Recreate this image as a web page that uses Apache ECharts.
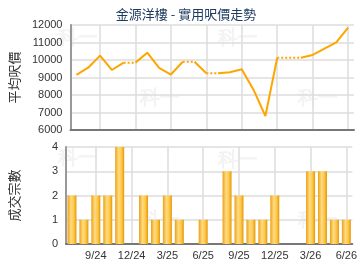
<!DOCTYPE html>
<html>
<head>
<meta charset="utf-8">
<script src="https://cdn.jsdelivr.net/npm/echarts@6/dist/echarts.min.js"></script>
<style>
  html, body { margin: 0; padding: 0; background: #fff; }
  #chart { width: 360px; height: 270px; }
</style>
</head>
<body>
<div id="chart"></div>
<script>
const months = ['7/24', '8/24', '9/24', '10/24', '11/24', '12/24',
    '1/25', '2/25', '3/25', '4/25', '5/25', '6/25', '7/25', '8/25', '9/25',
    '10/25', '11/25', '12/25', '1/26', '2/26', '3/26', '4/26', '5/26', '6/26'];
// average price per sq ft (months without deals carry the last price)
const prices = [9150, 9560, 10250, 9430, 9850, 9850,
    10420, 9550, 9170, 9900, 9900, 9240, 9240, 9300, 9470,
    8290, 6800, 10130, 10130, 10130, 10290, 10650, 11010, 11850];
const deals = [2, 1, 2, 2, 4, 0, 2, 1, 2, 1, 0, 1, 0, 3, 2, 1, 1, 2, 0, 0, 3, 3, 1, 1];

const chartTitle = '金源洋樓 - 實用呎價走勢';
const font = 'Liberation Sans, Arial, sans-serif';
const cjkFont = '"Noto Sans CJK TC", "Noto Sans", sans-serif';

// split the line into runs: a segment is dotted when it ends on a month with no deals
function buildLineSeries() {
    const out = [];
    let start = 0;
    let dotted = deals[1] === 0;
    for (let i = 1; i <= prices.length; i++) {
        const d = i < prices.length ? deals[i] === 0 : null;
        if (i === prices.length || d !== dotted) {
            const data = prices.map((v, k) => (k >= start && k <= i - 1) ? v : null);
            out.push({
                type: 'line',
                xAxisIndex: 0,
                yAxisIndex: 0,
                data: data,
                showSymbol: false,
                silent: true,
                lineStyle: {color: '#FFA500', width: 2, type: dotted ? 'dotted' : 'solid'},
                z: 3
            });
            start = i - 1;
            dotted = d;
        }
    }
    return out;
}

const showEvery3 = (index) => index % 3 === 2;

function xAxis(gridIndex, labels) {
    return {
        type: 'category',
        gridIndex: gridIndex,
        data: months,
        axisLine: {lineStyle: {color: '#777', width: 2}},
        axisTick: {show: false},
        axisLabel: {
            show: labels,
            interval: showEvery3,
            color: '#333',
            fontSize: 11,
            fontFamily: font,
            margin: 6
        },
        splitLine: {
            show: true,
            interval: showEvery3,
            alignWithLabel: true,
            lineStyle: {color: '#dcdcdc', width: 1.5}
        }
    };
}

function yAxis(gridIndex, name, min, max, interval) {
    return {
        type: 'value',
        gridIndex: gridIndex,
        name: name,
        nameLocation: 'middle',
        nameGap: 45,
        nameTextStyle: {color: '#333', fontSize: 13, fontFamily: cjkFont},
        min: min,
        max: max,
        interval: interval,
        axisLine: {show: true, lineStyle: {color: '#999', width: 2}},
        axisTick: {show: false},
        axisLabel: {color: '#333', fontSize: 11, fontFamily: font, margin: 8, formatter: (v) => String(v)},
        splitLine: {lineStyle: {color: '#dcdcdc', width: 1.5}}
    };
}

const watermarks = [[58, 28], [140, 88], [218, 28], [298, 88], [58, 148], [140, 210], [218, 150], [298, 210]];

let chart = echarts.init(document.getElementById('chart'), null, {renderer: 'canvas'});
let option = {
    animation: false,
    backgroundColor: '#fff',
    title: {
        text: chartTitle,
        left: 181,
        textAlign: 'center',
        top: 3,
        textStyle: {color: '#1d3a5f', fontSize: 13, fontWeight: 'normal', fontFamily: cjkFont}
    },
    graphic: watermarks.map(p => ({
        type: 'text',
        left: p[0],
        top: p[1],
        z: 0,
        silent: true,
        style: {text: '科一', fill: '#f3f3f3', font: 'bold 20px sans-serif'}
    })),
    grid: [
        {left: 65, right: 6, top: 25, height: 105},
        {left: 65, right: 6, top: 147, height: 97}
    ],
    xAxis: [xAxis(0, false), xAxis(1, true)],
    yAxis: [
        yAxis(0, '平均呎價', 6000, 12000, 1000),
        yAxis(1, '成交宗數', 0, 4, 1)
    ],
    series: [
        ...buildLineSeries(),
        {
            type: 'bar',
            xAxisIndex: 1,
            yAxisIndex: 1,
            data: deals,
            barWidth: 9,
            silent: true,
            itemStyle: {
                color: new echarts.graphic.LinearGradient(0, 0, 1, 0, [
                    {offset: 0, color: '#E99E12'},
                    {offset: 0.12, color: '#F3B334'},
                    {offset: 0.4, color: '#FFDB85'},
                    {offset: 0.7, color: '#FFC848'},
                    {offset: 1, color: '#E49808'}
                ])
            }
        }
    ]
};
chart.setOption(option);
</script>
</body>
</html>
